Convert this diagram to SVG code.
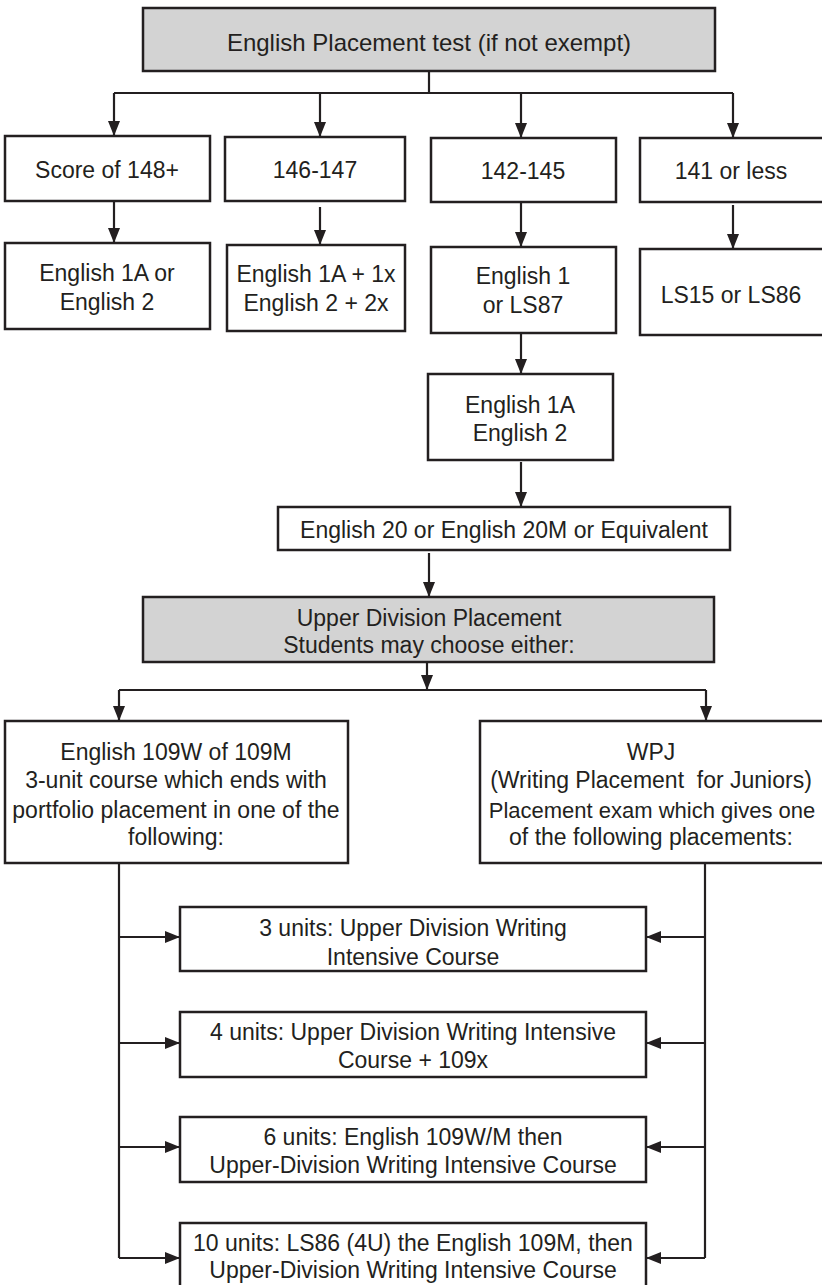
<svg xmlns="http://www.w3.org/2000/svg" width="822" height="1285" viewBox="0 0 822 1285">
<defs>
<marker id="ah" viewBox="0 0 15 12" refX="15" refY="6" markerWidth="15" markerHeight="12" markerUnits="userSpaceOnUse" orient="auto">
<path d="M0,0 L15,6 L0,12 Z" fill="#231f20"/>
</marker>
<style>
.box{fill:#fff;stroke:#231f20;stroke-width:2.5}
.gray{fill:#d3d3d3;stroke:#231f20;stroke-width:2.5}
.ln{fill:none;stroke:#231f20;stroke-width:2.2}
.arr{fill:none;stroke:#231f20;stroke-width:2.2;marker-end:url(#ah)}
text{font-family:"Liberation Sans",Arial,sans-serif;font-size:23px;fill:#231f20;text-anchor:middle}
.big{font-size:24px}
.pre{white-space:pre}
.fit{font-size:22px}
</style>
</defs>
<rect width="822" height="1285" fill="#fff"/>
<g id="connectors">
<path class="ln" d="M429,71 V93 M114,93 H733"/>
<path class="arr" d="M114,93 V136"/>
<path class="arr" d="M320,93 V137"/>
<path class="arr" d="M521,93 V138"/>
<path class="arr" d="M733,93 V138"/>
<path class="arr" d="M114,201 V243"/>
<path class="arr" d="M320,207 V245"/>
<path class="arr" d="M521,202 V247"/>
<path class="arr" d="M733,205 V249"/>
<path class="arr" d="M521,333 V374"/>
<path class="arr" d="M521,462 V507"/>
<path class="arr" d="M429,553 V597"/>
<path class="arr" d="M427,662 V690"/>
<path class="ln" d="M119,690 H706"/>
<path class="arr" d="M119,690 V721"/>
<path class="arr" d="M706,690 V721"/>
<path class="ln" d="M119,863 V1258 M705,863 V1258"/>
<path class="arr" d="M119,937 H180"/>
<path class="arr" d="M705,937 H646"/>
<path class="arr" d="M119,1043 H180"/>
<path class="arr" d="M705,1043 H646"/>
<path class="arr" d="M119,1147 H180"/>
<path class="arr" d="M705,1147 H646"/>
<path class="arr" d="M119,1258 H180"/>
<path class="arr" d="M705,1258 H646"/>
</g>
<g id="n-test"><rect class="gray" x="143" y="8" width="572" height="63"/><text class="big" x="429" y="51">English Placement test (if not exempt)</text></g>
<g id="n-148"><rect class="box" x="5" y="136" width="205" height="65"/><text x="107" y="178">Score of 148+</text></g>
<g id="n-146"><rect class="box" x="225" y="137" width="180" height="64"/><text x="315" y="178">146-147</text></g>
<g id="n-142"><rect class="box" x="431" y="138" width="185" height="64"/><text x="523" y="179">142-145</text></g>
<g id="n-141"><rect class="box" x="640" y="138" width="185" height="64"/><text x="731" y="179">141 or less</text></g>
<g id="n-e1a"><rect class="box" x="5" y="243" width="205" height="86"/><text x="107" y="281">English 1A or</text><text x="107" y="310">English 2</text></g>
<g id="n-e1ax"><rect class="box" x="227" y="245" width="178" height="86"/><text x="316" y="282">English 1A + 1x</text><text x="316" y="311">English 2 + 2x</text></g>
<g id="n-e1"><rect class="box" x="431" y="247" width="185" height="86"/><text x="523" y="284">English 1</text><text x="523" y="313">or LS87</text></g>
<g id="n-ls"><rect class="box" x="640" y="249" width="185" height="86"/><text x="731" y="303">LS15 or LS86</text></g>
<g id="n-e1a2"><rect class="box" x="428" y="374" width="185" height="86"/><text x="520" y="413">English 1A</text><text x="520" y="441">English 2</text></g>
<g id="n-e20"><rect class="box" x="278" y="507" width="452" height="43"/><text x="504" y="538">English 20 or English 20M or Equivalent</text></g>
<g id="n-upper"><rect class="gray" x="143" y="597" width="571" height="65"/><text x="429" y="626">Upper Division Placement</text><text x="429" y="653">Students may choose either:</text></g>
<g id="n-109"><rect class="box" x="5" y="721" width="343" height="142"/><text x="176" y="760">English 109W of 109M</text><text x="176" y="788">3-unit course which ends with</text><text x="176" y="818">portfolio placement in one of the</text><text x="176" y="845">following:</text></g>
<g id="n-wpj"><rect class="box" x="480" y="721" width="345" height="142"/><text x="651" y="760">WPJ</text><text class="pre" x="651" y="788">(Writing Placement  for Juniors)</text><text class="fit" x="652" y="818">Placement exam which gives one</text><text x="651" y="845">of the following placements:</text></g>
<g id="n-3u"><rect class="box" x="180" y="907" width="466" height="64"/><text x="413" y="936">3 units: Upper Division Writing</text><text x="413" y="965">Intensive Course</text></g>
<g id="n-4u"><rect class="box" x="180" y="1012" width="466" height="65"/><text x="413" y="1040">4 units: Upper Division Writing Intensive</text><text x="413" y="1068">Course + 109x</text></g>
<g id="n-6u"><rect class="box" x="180" y="1117" width="466" height="65"/><text x="413" y="1145">6 units: English 109W/M then</text><text x="413" y="1173">Upper-Division Writing Intensive Course</text></g>
<g id="n-10u"><rect class="box" x="180" y="1223" width="466" height="72"/><text x="413" y="1251">10 units: LS86 (4U) the English 109M, then</text><text x="413" y="1278">Upper-Division Writing Intensive Course</text></g>
</svg>
